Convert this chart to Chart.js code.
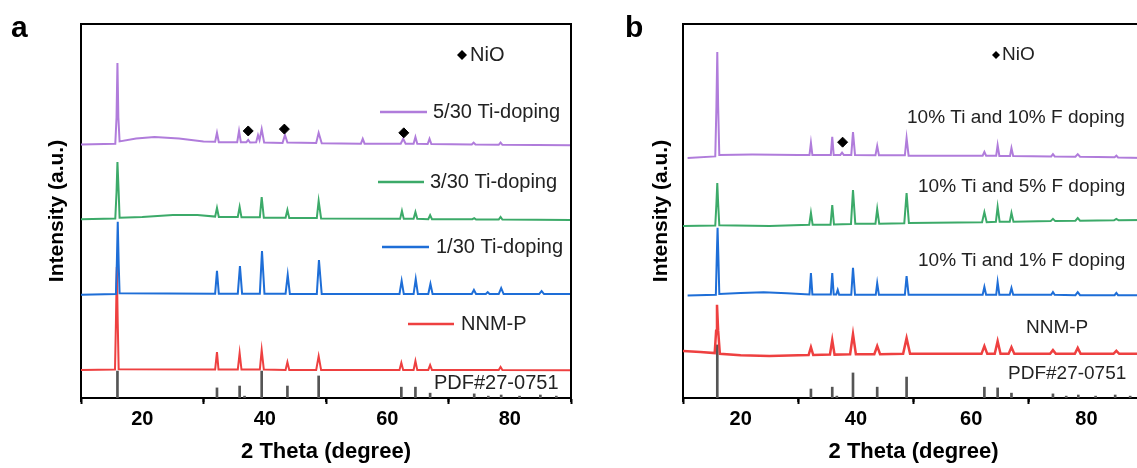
<!DOCTYPE html>
<html>
<head>
<meta charset="utf-8">
<script src="https://cdn.jsdelivr.net/npm/chart.js@4.4.0/dist/chart.umd.min.js"></script>
<style>
  html, body { margin: 0; padding: 0; background: #fff; overflow: hidden; }
  #wrap { position: relative; width: 1137px; height: 468px; overflow: hidden; }
  #chartA { position: absolute; left: 0; top: 0; }
  #chartB { position: absolute; left: 600px; top: 0; }
</style>
</head>
<body>
<div id="wrap">
  <canvas id="chartA" width="600" height="468"></canvas>
  <canvas id="chartB" width="560" height="468"></canvas>
</div>
<script>
// stacked XRD patterns, y in a.u. (0-100 over the plot height), x = 2 theta
const seriesA = ['5/30 Ti-doping', '3/30 Ti-doping', '1/30 Ti-doping', 'NNM-P'];
const seriesB = ['10% Ti and 10% F doping', '10% Ti and 5% F doping', '10% Ti and 1% F doping', 'NNM-P'];
const refName = 'PDF#27-0751';
const xTicks = [20, 40, 60, 80];
const xMinor = [10, 30, 50, 70, 90];

const aPurple = [[10,67.8],[15.6,68.0],[15.8,75],[15.95,89.6],[16.1,75],[16.3,68.6],[19,69.4],[22,69.8],[26,69.4],[30,68.6],
  [31.9,68.5],[32.2,70.9],[32.5,68.4],[35.5,68.4],[35.8,71.4],[36.1,68.4],[37.0,68.4],[37.3,69.0],[37.6,68.3],[38.6,68.4],
  [38.9,70.3],[39.15,69.0],[39.5,71.9],[39.9,68.3],[42.9,68.2],[43.3,70.3],[43.7,68.3],[48.4,68.2],[48.8,70.9],[49.3,68.1],
  [55.7,68.0],[56.0,69.3],[56.3,68.0],[62.2,68.0],[62.6,69.3],[63.0,68.0],[64.3,68.0],[64.6,69.8],[64.9,68.0],[66.6,67.9],
  [66.9,69.3],[67.2,67.9],[73.8,67.8],[74.1,68.3],[74.4,67.8],[78.2,67.7],[78.5,68.3],[78.8,67.7],[90,67.6]];
const aGreen = [[10,47.8],[15.6,48.0],[15.8,55],[15.95,63.1],[16.15,55],[16.3,48.2],[20,48.4],[25,48.9],[29,48.9],
  [31.9,48.5],[32.2,50.8],[32.5,48.4],[35.6,48.4],[35.9,51.1],[36.2,48.3],[39.2,48.3],[39.5,53.7],[39.85,48.2],
  [43.4,48.2],[43.7,50.3],[44.0,48.1],[48.5,48.1],[48.8,52.7],[49.2,48.0],[62.1,47.9],[62.4,50.0],[62.7,47.9],
  [64.3,47.9],[64.6,49.7],[64.9,47.9],[66.7,47.8],[67.0,48.9],[67.3,47.8],[73.9,47.8],[74.2,48.1],[74.5,47.7],
  [78.2,47.7],[78.5,48.4],[78.8,47.7],[90,47.6]];
const aBlue = [[10,27.6],[15.7,27.8],[15.85,36],[16.0,47.1],[16.15,36],[16.3,28.0],[31.9,27.9],[32.2,34.0],[32.5,27.9],
  [35.6,27.9],[35.95,35.3],[36.3,27.9],[39.2,27.9],[39.55,39.3],[39.95,27.9],[43.4,27.9],[43.75,32.9],[44.1,27.8],
  [48.5,27.8],[48.85,36.9],[49.3,27.8],[62.0,27.8],[62.35,31.3],[62.7,27.8],[64.3,27.8],[64.65,31.8],[65.0,27.8],
  [66.7,27.8],[67.05,30.5],[67.4,27.8],[73.8,27.8],[74.15,28.9],[74.5,27.8],[76.1,27.8],[76.4,28.3],[76.7,27.8],
  [78.2,27.8],[78.6,29.4],[79.0,27.8],[84.8,27.8],[85.2,28.6],[85.6,27.8],[90,27.8]];
const aRed = [[10,7.5],[15.55,7.6],[15.7,20],[15.85,35.0],[16.0,20],[16.15,7.7],[31.9,7.6],[32.2,12.3],[32.45,7.6],
  [35.6,7.6],[35.9,12.0],[36.2,7.6],[39.2,7.6],[39.5,12.8],[39.85,7.6],[43.4,7.5],[43.7,9.6],[44.0,7.5],[48.4,7.5],
  [48.8,11.2],[49.2,7.5],[62.0,7.5],[62.3,9.4],[62.6,7.5],[64.3,7.5],[64.6,9.9],[64.9,7.5],[66.7,7.5],[67.0,8.8],
  [67.3,7.5],[78.2,7.5],[78.5,8.3],[78.8,7.5],[90,7.4]];

const bPurple = [[10.8,64.2],[15.6,64.6],[15.8,78],[15.95,92.5],[16.1,78],[16.3,65.0],[22,65.1],[30,65.0],[31.95,65.0],
  [32.2,68.2],[32.45,65.0],[35.65,65.0],[35.9,69.8],[36.15,65.0],[37.3,65.0],[37.6,65.6],[37.9,65.0],[39.2,65.0],
  [39.5,71.1],[39.85,65.0],[43.4,64.9],[43.7,67.4],[44.0,64.9],[48.5,64.9],[48.8,69.5],[49.15,64.8],[62.0,64.8],
  [62.3,65.8],[62.6,64.8],[64.35,64.8],[64.6,67.6],[64.9,64.7],[66.75,64.7],[67.0,66.8],[67.3,64.7],[73.9,64.6],
  [74.2,65.2],[74.5,64.6],[78.1,64.5],[78.5,65.2],[78.9,64.5],[84.9,64.4],[85.2,64.8],[85.5,64.3],[90,64.2]];
const bGreen = [[10,46.0],[15.6,46.1],[15.8,52],[15.95,57.5],[16.1,52],[16.3,46.2],[25,46.0],[31.9,46.3],[32.2,49.5],
  [32.5,46.3],[35.6,46.3],[35.9,51.6],[36.2,46.4],[39.15,46.5],[39.5,55.6],[39.9,46.6],[43.4,46.6],[43.7,50.5],
  [44.05,46.6],[48.4,46.7],[48.8,54.8],[49.2,46.8],[61.9,47.0],[62.3,49.7],[62.7,47.0],[64.3,47.1],[64.6,51.1],
  [64.95,47.1],[66.7,47.1],[67.0,49.5],[67.35,47.1],[73.8,47.3],[74.2,47.9],[74.6,47.3],[78.1,47.4],[78.5,48.1],
  [78.9,47.4],[84.8,47.5],[85.2,47.9],[85.6,47.5],[90,47.6]];
const bBlue = [[10.8,27.4],[15.7,27.6],[15.85,37],[16.0,45.5],[16.15,37],[16.3,27.8],[20,28.1],[24,28.3],[28,28.0],
  [31.95,27.7],[32.2,33.4],[32.45,27.7],[35.65,27.7],[35.9,33.4],[36.15,27.7],[36.6,27.7],[36.85,28.9],[37.1,27.6],
  [39.2,27.6],[39.5,34.8],[39.85,27.6],[43.45,27.6],[43.7,30.7],[44.0,27.6],[48.5,27.6],[48.8,32.6],[49.15,27.6],
  [62.0,27.6],[62.3,29.7],[62.6,27.6],[64.35,27.6],[64.6,31.0],[64.9,27.6],[66.7,27.6],[67.0,29.4],[67.3,27.6],
  [73.9,27.6],[74.2,28.3],[74.5,27.6],[78.1,27.5],[78.5,28.3],[78.9,27.5],[84.9,27.5],[85.2,28.1],[85.5,27.5],[90,27.5]];
const bRed = [[10,12.6],[13,12.3],[15.5,12.0],[15.75,18],[15.9,24.9],[16.1,18],[16.4,11.8],[20,11.4],[25,11.2],[30,11.4],
  [31.8,11.5],[32.2,13.6],[32.6,11.5],[35.5,11.6],[35.9,15.5],[36.3,11.6],[39.0,11.7],[39.5,17.1],[40.0,11.7],
  [43.2,11.7],[43.7,13.9],[44.2,11.7],[48.2,11.8],[48.8,16.0],[49.4,11.8],[61.8,11.8],[62.3,13.9],[62.8,11.8],
  [64.1,11.8],[64.6,15.2],[65.1,11.8],[66.5,11.8],[67.0,13.6],[67.5,11.8],[73.7,11.8],[74.2,12.8],[74.7,11.8],
  [78.0,11.8],[78.5,13.4],[79.0,11.8],[84.7,11.8],[85.2,12.6],[85.7,11.8],[90,11.8]];

// reference card sticks
const pdfPos = [15.95, 32.2, 35.9, 36.7, 39.5, 43.7, 48.8, 62.3, 64.6, 67.0, 74.2, 76.5, 78.6, 81.6, 85.0, 87.6];
const aPdfHeights = [7.2, 2.7, 3.2, 0.5, 7.2, 3.2, 5.9, 2.9, 2.9, 1.3, 1.1, 0.5, 0.8, 0.5, 0.8, 0.5];
const bPdfHeights = [14.2, 2.4, 2.9, 0.5, 6.7, 2.9, 5.6, 2.9, 2.7, 1.3, 1.1, 0.5, 0.8, 0.5, 0.8, 0.5];

// NiO markers
const aNiO = [[37.3, 71.4], [43.2, 71.9], [62.7, 70.9]];
const bNiO = [[37.7, 68.4]];

const colors = ['#b07cdb', '#3caa69', '#1e6ed7', '#ee4040'];
const stickColor = '#555';
const FONT = '"Liberation Sans", Arial, Helvetica, sans-serif';
Chart.defaults.font.family = FONT;

const line = (data, color, order, width) => ({
  type: 'line', data, borderColor: color, borderWidth: width || 2,
  pointRadius: 0, tension: 0, fill: false, order
});

const annotate = {
  id: 'annotate',
  afterDraw(chart, args, opts) {
    const ctx = chart.ctx;
    const area = chart.chartArea;
    const xs = chart.scales.x;
    ctx.save();
    ctx.strokeStyle = '#000';
    ctx.lineWidth = 2;
    ctx.beginPath();
    ctx.moveTo(area.left - 1, area.top);
    ctx.lineTo(area.right, area.top);
    ctx.lineTo(area.right, area.bottom);
    ctx.stroke();
    xMinor.forEach(v => {
      const px = xs.getPixelForValue(v);
      ctx.beginPath();
      ctx.moveTo(px, area.bottom);
      ctx.lineTo(px, area.bottom + 4);
      ctx.stroke();
    });
    ctx.fillStyle = '#000';
    ctx.font = 'bold 30px ' + FONT;
    ctx.textBaseline = 'alphabetic';
    ctx.fillText(opts.letter, opts.letterX, 37);

    ctx.font = opts.size + 'px ' + FONT;
    ctx.textBaseline = 'middle';
    opts.labels.forEach(l => {
      if (l.line) {
        ctx.strokeStyle = l.line;
        ctx.lineWidth = 2.5;
        ctx.beginPath();
        ctx.moveTo(l.lx[0], l.y);
        ctx.lineTo(l.lx[1], l.y);
        ctx.stroke();
      }
      if (l.diamond) {
        const [cx, h] = l.diamond;
        ctx.fillStyle = '#000';
        ctx.beginPath();
        ctx.moveTo(cx, l.y - h); ctx.lineTo(cx + h, l.y);
        ctx.lineTo(cx, l.y + h); ctx.lineTo(cx - h, l.y);
        ctx.closePath();
        ctx.fill();
      }
      ctx.fillStyle = '#222';
      ctx.fillText(l.text, l.x, l.y);
    });
    ctx.restore();
  }
};

function makeChart(id, traces, heights, nio, leftW, padRight, titlePad, ann) {
  const datasets = traces.map((d, i) => line(d, colors[i], i + 1, i === 3 && id === 'chartB' ? 2.5 : 2));
  datasets.push({
    type: 'bar', data: pdfPos.map((x, i) => ({ x, y: heights[i] })),
    backgroundColor: stickColor, barThickness: 2, order: 10
  });
  datasets.push({
    type: 'line', data: nio, showLine: false, pointStyle: 'rectRot', pointRadius: 5,
    pointBackgroundColor: '#000', pointBorderColor: '#000', borderColor: '#000', order: 0
  });
  return new Chart(document.getElementById(id), {
    type: 'line',
    data: { datasets },
    plugins: [annotate],
    options: {
      responsive: false,
      animation: false,
      layout: { padding: { left: 0, top: 24, right: padRight, bottom: 0 } },
      plugins: { legend: { display: false }, tooltip: { enabled: false }, annotate: ann },
      scales: {
        x: {
          type: 'linear', min: 10, max: 90, offset: false,
          afterFit: s => { s.height = 70; },
          afterBuildTicks: s => { s.ticks = xTicks.map(v => ({ value: v })); },
          ticks: { font: { size: 20, weight: 'bold' }, color: '#000', padding: 3, maxRotation: 0, autoSkip: false },
          grid: { drawOnChartArea: false, tickLength: 6, tickWidth: 2, tickColor: '#000' },
          border: { color: '#000', width: 2 },
          title: { display: true, text: '2 Theta (degree)', color: '#000',
            font: { size: 22, weight: 'bold' }, padding: { top: 0, bottom: 3 } }
        },
        y: {
          min: 0, max: 100,
          afterFit: s => { s.width = leftW; },
          ticks: { display: false },
          grid: { display: false },
          border: { color: '#000', width: 2 },
          title: { display: true, text: 'Intensity (a.u.)', color: '#000',
            font: { size: 21, weight: 'bold' }, padding: { top: titlePad, bottom: 0 } }
        }
      }
    }
  });
}

makeChart('chartA', [aPurple, aGreen, aBlue, aRed], aPdfHeights, aNiO, 81, 29, 45, {
  letter: 'a', letterX: 11, size: 20,
  labels: [
    { text: 'NiO', x: 470, y: 55, diamond: [462, 5] },
    { text: seriesA[0], x: 433, y: 112, line: colors[0], lx: [380, 427] },
    { text: seriesA[1], x: 430, y: 182, line: colors[1], lx: [378, 424] },
    { text: seriesA[2], x: 436, y: 247, line: colors[2], lx: [382, 429] },
    { text: seriesA[3], x: 461, y: 324, line: colors[3], lx: [408, 454] },
    { text: refName, x: 434, y: 383 }
  ]
});

makeChart('chartB', [bPurple, bGreen, bBlue, bRed], bPdfHeights, bNiO, 83, 16, 49, {
  letter: 'b', letterX: 25, size: 19,
  labels: [
    { text: 'NiO', x: 402, y: 55, diamond: [396, 4] },
    { text: seriesB[0], x: 307, y: 118 },
    { text: seriesB[1], x: 318, y: 187 },
    { text: seriesB[2], x: 318, y: 261 },
    { text: seriesB[3], x: 426, y: 328 },
    { text: refName, x: 408, y: 374 }
  ]
});
</script>
</body>
</html>
